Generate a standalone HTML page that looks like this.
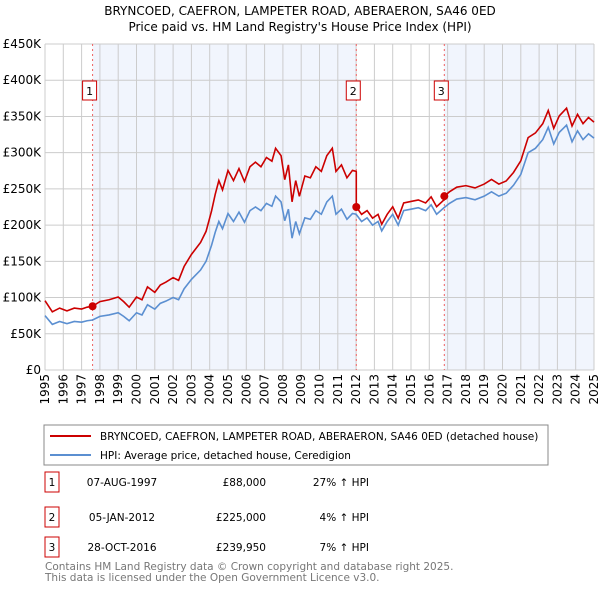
<!DOCTYPE html>
<html><head><meta charset="utf-8"><style>
body{margin:0;background:#fff;width:600px;height:590px;overflow:hidden;font-family:"DejaVu Sans","Liberation Sans",sans-serif}
svg text{font-family:"DejaVu Sans","Liberation Sans",sans-serif}
</style></head><body>
<svg id="c" width="600" height="590" xmlns="http://www.w3.org/2000/svg">
<text x="300" y="15" text-anchor="middle" font-size="12">BRYNCOED, CAEFRON, LAMPETER ROAD, ABERAERON, SA46 0ED</text>
<text x="300" y="31" text-anchor="middle" font-size="12">Price paid vs. HM Land Registry's House Price Index (HPI)</text>
<g id="plot"></g>
<rect x="44" y="425" width="504" height="40" fill="#fff" stroke="#888"/>
<line x1="50" y1="436" x2="91" y2="436" stroke="#cc0000" stroke-width="2"/>
<text x="100" y="440" font-size="10.5">BRYNCOED, CAEFRON, LAMPETER ROAD, ABERAERON, SA46 0ED (detached house)</text>
<line x1="50" y1="455" x2="91" y2="455" stroke="#5b8fd1" stroke-width="2"/>
<text x="100" y="459" font-size="10.5">HPI: Average price, detached house, Ceredigion</text>
<g id="tbl"></g>
<text x="45" y="570" font-size="10.5" fill="#777">Contains HM Land Registry data © Crown copyright and database right 2025.</text>
<text x="45" y="581" font-size="10.5" fill="#777">This data is licensed under the Open Government Licence v3.0.</text>
</svg>
<script>
const hpiYears=[1995.0,1995.4,1995.8,1996.2,1996.6,1997.0,1997.3,1997.6,1998.0,1998.5,1999.0,1999.3,1999.6,2000.0,2000.3,2000.6,2001.0,2001.3,2001.6,2002.0,2002.3,2002.6,2003.0,2003.5,2003.8,2004.1,2004.3,2004.5,2004.7,2005.0,2005.3,2005.6,2005.9,2006.2,2006.5,2006.8,2007.1,2007.4,2007.6,2007.9,2008.1,2008.3,2008.5,2008.7,2008.9,2009.2,2009.5,2009.8,2010.1,2010.4,2010.7,2010.9,2011.2,2011.5,2011.8,2012.0,2012.3,2012.6,2012.9,2013.2,2013.4,2013.7,2014.0,2014.3,2014.6,2015.0,2015.4,2015.8,2016.1,2016.4,2016.8,2017.1,2017.5,2018.0,2018.5,2019.0,2019.4,2019.8,2020.2,2020.6,2021.0,2021.4,2021.8,2022.2,2022.5,2022.8,2023.1,2023.5,2023.8,2024.1,2024.4,2024.7,2025.0];
const hpiValues=[75,63,67,64,67,66,68,69,74,76,79,74,68,79,76,90,84,92,95,100,97,112,125,138,150,172,190,205,195,216,205,218,204,220,225,220,230,226,240,232,206,222,182,205,188,210,208,220,215,232,240,215,222,208,216,215,205,210,200,205,192,205,215,200,220,222,224,220,228,215,224,230,236,238,235,240,246,240,244,255,270,300,306,318,335,312,328,338,315,330,318,326,320];
const saleYears=[1997.6,2012.01,2016.82];
const salePrices=[88000,225000,239950];
const saleDates=["07-AUG-1997","05-JAN-2012","28-OCT-2016"];
const salePriceLabels=["£88,000","£225,000","£239,950"];
const saleDiffs=["27% ↑ HPI","4% ↑ HPI","7% ↑ HPI"];
const yTicks=[0,50000,100000,150000,200000,250000,300000,350000,400000,450000];
const yTickLabels=["£0","£50K","£100K","£150K","£200K","£250K","£300K","£350K","£400K","£450K"];
const xTicks=[1995,1996,1997,1998,1999,2000,2001,2002,2003,2004,2005,2006,2007,2008,2009,2010,2011,2012,2013,2014,2015,2016,2017,2018,2019,2020,2021,2022,2023,2024,2025];

const NS="http://www.w3.org/2000/svg";
const L=45,R=594,T=44,B=370;
const xs=y=>L+(y-1995)/30*(R-L);
const ys=v=>B-v/450000*(B-T);
function mk(t,a,p){const e=document.createElementNS(NS,t);for(const k in a)e.setAttribute(k,a[k]);(p||document.getElementById('plot')).appendChild(e);return e;}
function hpiAt(y){for(let i=0;i<hpiYears.length-1;i++){if(y>=hpiYears[i]&&y<=hpiYears[i+1]){const f=(y-hpiYears[i])/(hpiYears[i+1]-hpiYears[i]);return (hpiValues[i]+f*(hpiValues[i+1]-hpiValues[i]))*1000;}}return hpiValues[hpiValues.length-1]*1000;}
for(let i=0;i<saleYears.length;i+=2){const x1=xs(saleYears[i]);const x2=i+1<saleYears.length?xs(saleYears[i+1]):R;
const r=mk('rect',{x:x1,y:T,width:x2-x1,height:B-T,fill:'#f1f5fd'});

}
xTicks.forEach(t=>{const l=mk('line',{x1:xs(t),x2:xs(t),y1:T,y2:B,stroke:'#ccc'});


const px=xs(t)+4,py=374;
const tx=mk('text',{x:px,y:py,'text-anchor':'end','font-size':12,transform:'rotate(-90 '+px+' '+py+')'});tx.textContent=t;

});
yTicks.forEach((t,i)=>{const l=mk('line',{x1:L,x2:R,y1:ys(t),y2:ys(t),stroke:'#ccc'});


const tx=mk('text',{x:L-4,y:ys(t)+4,'text-anchor':'end','font-size':12});tx.textContent=yTickLabels[i];

});
saleYears.forEach((s,i)=>{const l=mk('line',{x1:xs(s),x2:xs(s),y1:T,y2:B,stroke:'#f06060','stroke-dasharray':'2,3'});


const bx=mk('rect',{x:xs(s)-7-3,y:81,width:14,height:19,fill:'#fff',stroke:'#cc0000'});


const tx=mk('text',{x:xs(s)-3,y:95,'text-anchor':'middle','font-size':11});tx.textContent=i+1;

});
const hp=mk('polyline',{points:hpiYears.map((y,i)=>xs(y)+','+ys(hpiValues[i]*1000)).join(' '),fill:'none',stroke:'#5b8fd1','stroke-width':1.6});


const ratios=saleYears.map((s,i)=>salePrices[i]/hpiAt(s));
function ratioAt(y){let r=ratios[0];for(let i=0;i<saleYears.length;i++)if(y>=saleYears[i])r=ratios[i];return r;}
let pts=[];
hpiYears.forEach((y,i)=>{saleYears.forEach((s,j)=>{if(i>0&&hpiYears[i-1]<s&&y>=s){pts.push(xs(s)+','+ys(hpiAt(s)*ratioAt(s-0.001)));pts.push(xs(s)+','+ys(salePrices[j]));}});pts.push(xs(y)+','+ys(hpiValues[i]*1000*ratioAt(y)));});
const pr=mk('polyline',{points:pts.join(' '),fill:'none',stroke:'#cc0000','stroke-width':1.6});


saleYears.forEach((s,i)=>{const c=mk('circle',{cx:xs(s),cy:ys(salePrices[i]),r:4,fill:'#cc0000'});

});
const tb=document.getElementById('tbl');const rowsY=[482,517,547];
saleYears.forEach((s,i)=>{const y=rowsY[i];
const bx=mk('rect',{x:45,y:y-10,width:14,height:20,fill:'#fff',stroke:'#cc0000'},tb);


const n=mk('text',{x:52,y:y+4,'text-anchor':'middle','font-size':10.5},tb);n.textContent=i+1;


const d=mk('text',{x:122,y:y+4,'text-anchor':'middle','font-size':10.5},tb);d.textContent=saleDates[i];


const p=mk('text',{x:266,y:y+4,'text-anchor':'end','font-size':10.5},tb);p.textContent=salePriceLabels[i];


const h=mk('text',{x:369,y:y+4,'text-anchor':'end','font-size':10.5},tb);h.textContent=saleDiffs[i];

});
</script>
</body></html>
